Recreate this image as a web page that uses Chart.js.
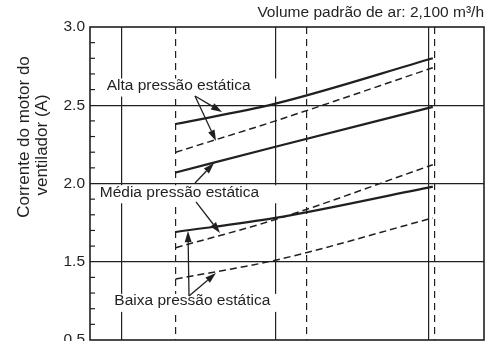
<!DOCTYPE html>
<html>
<head>
<meta charset="utf-8">
<script src="https://cdn.jsdelivr.net/npm/chart.js@4/dist/chart.umd.min.js"></script>
<style>
html, body { margin: 0; padding: 0; background: #fff; overflow: hidden; }
#wrap { width: 488px; height: 341px; overflow: hidden; }
#box { width: 488px; height: 380px; position: relative; }
</style>
</head>
<body>
<div id="wrap"><div id="box"><canvas id="myChart"></canvas></div></div>
<script>
// voltage (V) at which the curves were read
const volts = [207, 220, 240.5];

// fan motor current (A) - solid curves
const solidAlta  = [2.38, 2.51, 2.80];
const solidMedia = [2.07, 2.235, 2.49];
const solidBaixa = [1.69, 1.78, 1.98];
// dashed curves
const dashAlta  = [2.20, 2.40, 2.74];
const dashMedia = [1.59, 1.77, 2.12];
const dashBaixa = [1.39, 1.51, 1.78];

// vertical reference lines
const solidVolts = [200, 220, 240];
const dashVolts = [207, 224, 240.7];

// y ticks (axis is broken at the bottom, so 1.0 is printed as 0.5)
const ampTicks = [1.0, 1.5, 2.0, 2.5, 3.0];
const ampTickLabels = ["0.5", "1.5", "2.0", "2.5", "3.0"];

const chartTitle = "Volume padrão de ar: 2,100 m³/h";
const yTitle = ["Corrente do motor do", "ventilador (A)"];

// annotation labels and arrows, in data units (V, A)
const labels = [
  {text: "Alta pressão estática", v: 198.0, a: 2.626},
  {text: "Média pressão estática", v: 197.1, a: 1.944},
  {text: "Baixa pressão estática", v: 199.0, a: 1.250}
];
const arrows = [
  [209.51, 2.559, 213.03, 2.457],
  [209.51, 2.559, 212.25, 2.272],
  [209.51, 2.003, 211.99, 2.131],
  [209.64, 1.882, 212.77, 1.684],
  [208.73, 1.281, 208.60, 1.696],
  [208.73, 1.281, 212.25, 1.428]
];

const ink = "#231f20";
const font = "'Liberation Sans', Arial, sans-serif";

function pts(ys){
  return volts.map((v, i) => ({x: v, y: ys[i]}));
}
function line(ys, dashed){
  return {
    data: pts(ys),
    borderColor: ink,
    borderWidth: dashed ? 1.5 : 2.2,
    borderDash: dashed ? [7, 4] : [],
    pointRadius: 0,
    cubicInterpolationMode: "monotone",
    fill: false
  };
}
function isMajor(v){
  return ampTicks.some(t => Math.abs(t - v) < 1e-6);
}

const decor = {
  id: "decor",
  afterDatasetsDraw(chart){
    const ctx = chart.ctx;
    const xs = chart.scales.x, ys = chart.scales.y;
    const area = chart.chartArea;
    ctx.save();
    // minor ticks inside the left edge
    ctx.strokeStyle = ink;
    ctx.lineWidth = 1.2;
    ys.ticks.forEach(t => {
      if (isMajor(t.value)) return;
      const py = ys.getPixelForValue(t.value);
      ctx.beginPath();
      ctx.moveTo(area.left, py);
      ctx.lineTo(area.left + 5, py);
      ctx.stroke();
    });
    // labels with white boxes
    ctx.font = "15.5px " + font;
    ctx.textBaseline = "middle";
    ctx.textAlign = "left";
    const boxRight = xs.getPixelForValue(221.5);
    labels.forEach(l => {
      const px = xs.getPixelForValue(l.v), py = ys.getPixelForValue(l.a);
      const w = ctx.measureText(l.text).width;
      ctx.fillStyle = "#fff";
      ctx.fillRect(px - 4, py - 7, Math.max(px + w + 4, boxRight) - (px - 4), 18);
      ctx.fillStyle = ink;
      ctx.fillText(l.text, px, py);
    });
    // arrows
    ctx.lineWidth = 1.3;
    arrows.forEach(a => {
      const x0 = xs.getPixelForValue(a[0]), y0 = ys.getPixelForValue(a[1]);
      const x1 = xs.getPixelForValue(a[2]), y1 = ys.getPixelForValue(a[3]);
      const ang = Math.atan2(y1 - y0, x1 - x0);
      const hl = 11, hw = 3.5;
      ctx.beginPath();
      ctx.moveTo(x0, y0);
      ctx.lineTo(x1 - Math.cos(ang) * hl, y1 - Math.sin(ang) * hl);
      ctx.stroke();
      ctx.beginPath();
      ctx.moveTo(x1, y1);
      ctx.lineTo(x1 - Math.cos(ang) * hl - Math.sin(ang) * hw, y1 - Math.sin(ang) * hl + Math.cos(ang) * hw);
      ctx.lineTo(x1 - Math.cos(ang) * hl + Math.sin(ang) * hw, y1 - Math.sin(ang) * hl - Math.cos(ang) * hw);
      ctx.closePath();
      ctx.fill();
    });
    // frame
    ctx.lineWidth = 1.6;
    ctx.strokeRect(area.left, area.top, area.right - area.left, area.bottom - area.top);
    // y axis title
    ctx.font = "17px " + font;
    ctx.textAlign = "center";
    ctx.fillStyle = ink;
    [[24, 137], [42, 145]].forEach((p, i) => {
      ctx.save();
      ctx.translate(p[0], p[1]);
      ctx.rotate(-Math.PI / 2);
      ctx.fillText(yTitle[i], 0, 0);
      ctx.restore();
    });
    ctx.restore();
  }
};

new Chart("myChart", {
  type: "line",
  data: {
    datasets: [
      line(solidAlta, false), line(dashAlta, true),
      line(solidMedia, false), line(dashMedia, true),
      line(solidBaixa, false), line(dashBaixa, true)
    ]
  },
  options: {
    responsive: true,
    maintainAspectRatio: false,
    animation: false,
    layout: {padding: {left: 0, right: 4, top: 0, bottom: 40}},
    plugins: {
      legend: {display: false},
      tooltip: {enabled: false},
      title: {
        display: true,
        text: chartTitle,
        align: "end",
        color: ink,
        font: {family: font, size: 15.5, weight: "normal", lineHeight: 1.2},
        padding: {top: 3, bottom: 5.4}
      }
    },
    scales: {
      x: {
        type: "linear",
        min: 195.83,
        max: 247.17,
        afterBuildTicks: s => { s.ticks = solidVolts.concat(dashVolts).map(v => ({value: v})); },
        afterFit: s => { s.height = 0; },
        ticks: {display: false},
        grid: {color: ink, lineWidth: 1.2, drawTicks: false},
        border: {
          display: false,
          dash: c => (c.tick && dashVolts.includes(c.tick.value)) ? [7, 5] : []
        }
      },
      y: {
        type: "linear",
        min: 1.0,
        max: 3.0,
        afterFit: s => { s.width = 90; },
        ticks: {
          stepSize: 0.1,
          autoSkip: false,
          padding: 5,
          color: ink,
          font: {family: font, size: 15.5},
          callback: v => {
            const i = ampTicks.findIndex(t => Math.abs(t - v) < 1e-6);
            return i < 0 ? "" : ampTickLabels[i];
          }
        },
        grid: {
          drawTicks: false,
          lineWidth: 1.2,
          color: c => (c.tick && isMajor(c.tick.value) && c.tick.value > 1.01 && c.tick.value < 2.99) ? ink : "rgba(0,0,0,0)"
        },
        border: {display: false}
      }
    }
  },
  plugins: [decor]
});
</script>
</body>
</html>
